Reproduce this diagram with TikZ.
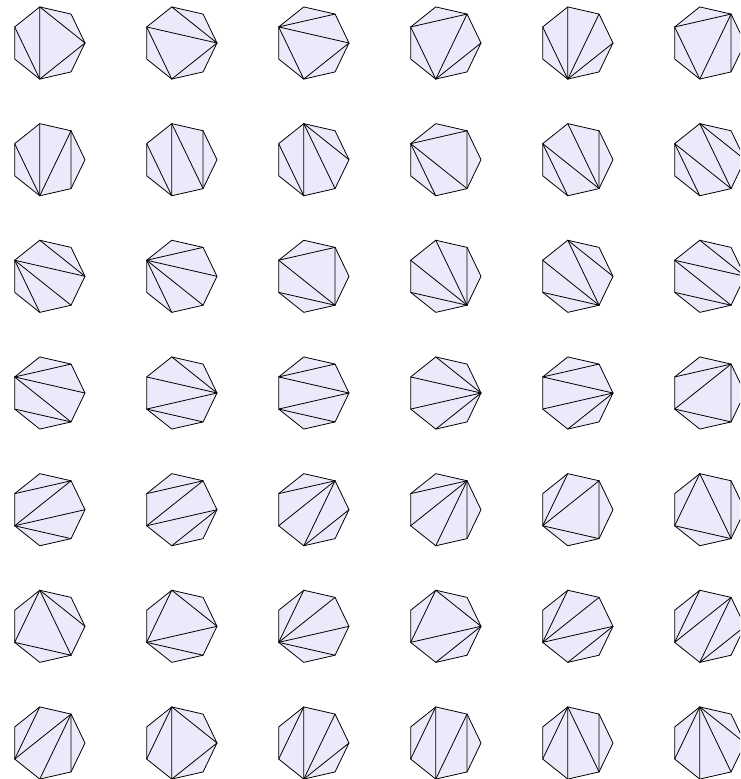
\documentclass[tikz,border=0pt]{standalone}
\definecolor{lav}{RGB}{238,233,250}
\tikzset{
  poly/.style={draw=black, fill=lav, line width=0.8pt, line join=round},
  diag/.style={draw=black, line width=0.8pt, line cap=round}
}
\newcommand{\hept}[4]{%
  \foreach \k in {0,...,6} {
    \coordinate (#1-\k) at ({#2+37*cos(360*\k/7)},{#3-37*sin(360*\k/7)});
  }
  \draw[poly] (#1-0) -- (#1-1) -- (#1-2) -- (#1-3) -- (#1-4) -- (#1-5) -- (#1-6) -- cycle;
  \foreach \a/\b in {#4} { \draw[diag] (#1-\a) -- (#1-\b); }
}
\begin{document}
\begin{tikzpicture}[x=1pt,y=-1pt]
\useasboundingbox (0,0) rectangle (740,779);
\begin{scope}
\clip (0,0) rectangle (740,779);
% row 1
\hept{a1}{48}{43}{0/2,0/5,2/5,3/5}
\hept{a2}{180}{43}{0/2,0/3,0/5,3/5}
\hept{a3}{312}{43}{1/3,0/3,3/5,0/5}
\hept{a4}{444}{43}{1/3,1/5,3/5,0/5}
\hept{a5}{576}{43}{2/5,1/5,0/5,3/5}
\hept{a6}{708}{43}{1/3,3/5,1/5,1/6}
% row 2
\hept{b1}{48}{159.7}{2/5,3/5,1/5,1/6}
\hept{b2}{180}{159.7}{2/5,3/5,2/6,1/6}
\hept{b3}{312}{159.7}{2/5,3/5,2/6,0/2}
\hept{b4}{444}{159.7}{1/3,1/6,3/6,3/5}
\hept{b5}{576}{159.7}{2/6,1/6,3/6,3/5}
\hept{b6}{708}{159.7}{0/2,2/6,3/6,3/5}
% row 3
\hept{c1}{48}{276.3}{0/2,0/3,3/6,3/5}
\hept{c2}{180}{276.3}{1/3,0/3,3/6,3/5}
\hept{c3}{312}{276.3}{1/3,1/6,3/6,4/6}
\hept{c4}{444}{276.3}{2/6,1/6,3/6,4/6}
\hept{c5}{576}{276.3}{0/2,2/6,3/6,4/6}
\hept{c6}{708}{276.3}{0/2,0/3,3/6,4/6}
% row 4
\hept{d1}{48}{393}{1/3,0/3,3/6,4/6}
\hept{d2}{180}{393}{0/2,0/3,0/4,4/6}
\hept{d3}{312}{393}{1/3,0/3,0/4,4/6}
\hept{d4}{444}{393}{0/2,0/3,0/4,0/5}
\hept{d5}{576}{393}{1/3,0/3,0/4,0/5}
\hept{d6}{708}{393}{1/3,1/4,1/6,4/6}
% row 5
\hept{e1}{48}{509.7}{1/3,1/4,0/4,4/6}
\hept{e2}{180}{509.7}{1/3,1/4,0/4,0/5}
\hept{e3}{312}{509.7}{1/3,1/4,1/5,0/5}
\hept{e4}{444}{509.7}{1/3,1/4,1/5,1/6}
\hept{e5}{576}{509.7}{2/4,1/4,4/6,1/6}
\hept{e6}{708}{509.7}{2/4,2/6,4/6,1/6}
% row 6
\hept{f1}{48}{626.3}{2/4,2/6,0/2,4/6}
\hept{f2}{180}{626.3}{2/4,0/2,0/4,4/6}
\hept{f3}{312}{626.3}{2/4,1/4,0/4,4/6}
\hept{f4}{444}{626.3}{2/4,0/2,0/4,0/5}
\hept{f5}{576}{626.3}{2/4,1/4,0/4,0/5}
\hept{f6}{708}{626.3}{2/4,1/4,1/5,0/5}
% row 7
\hept{g1}{48}{743}{2/4,1/4,1/5,1/6}
\hept{g2}{180}{743}{2/4,2/5,0/2,0/5}
\hept{g3}{312}{743}{2/4,2/5,1/5,0/5}
\hept{g4}{444}{743}{2/4,2/5,1/5,1/6}
\hept{g5}{576}{743}{2/4,2/5,2/6,1/6}
\hept{g6}{708}{743}{2/4,2/5,2/6,0/2}
\end{scope}
\end{tikzpicture}
\end{document}
